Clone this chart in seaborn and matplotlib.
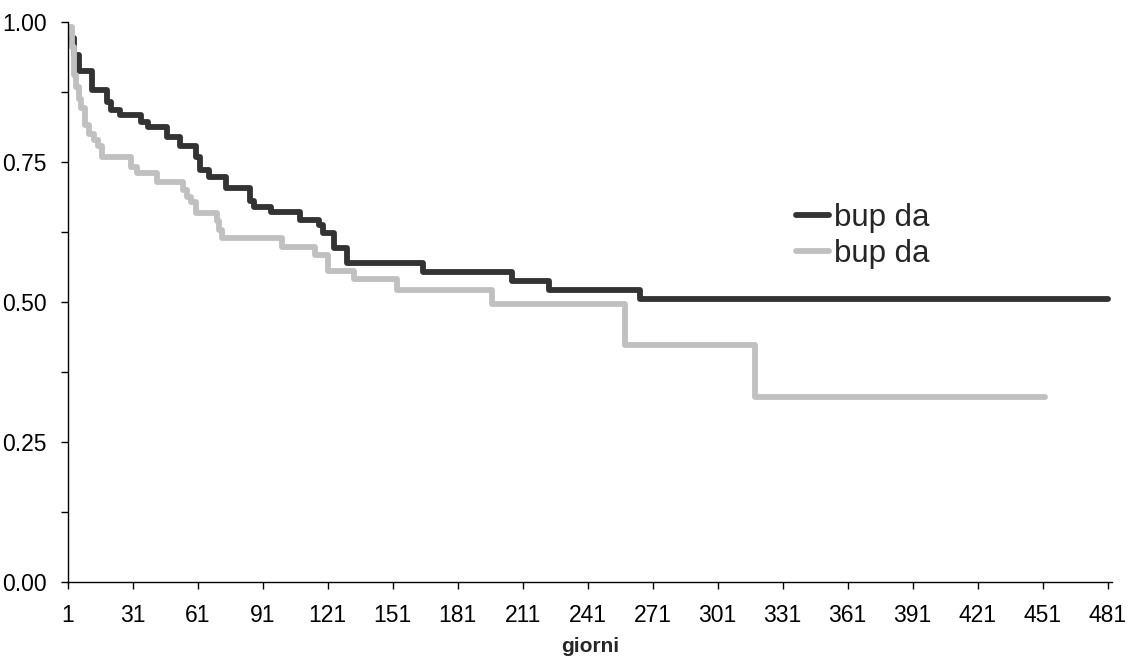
import pandas as pd
import seaborn as sns
import matplotlib.pyplot as plt
from matplotlib.ticker import MultipleLocator, FixedLocator

# curva scura (bup da)
giorni_scuro = [1, 4, 6, 12, 19, 21, 25, 35, 38, 47, 53, 60, 62, 66, 74, 85, 87, 95,
                108, 117, 119, 124, 130, 165, 206, 223, 265, 481]
surv_scuro = [0.972, 0.941, 0.912, 0.879, 0.858, 0.843, 0.834, 0.822, 0.813, 0.795,
              0.778, 0.760, 0.736, 0.724, 0.703, 0.680, 0.670, 0.660, 0.647, 0.638,
              0.623, 0.596, 0.569, 0.553, 0.537, 0.522, 0.505, 0.505]

# curva chiara (bup da)
giorni_chiaro = [2, 3, 4, 5, 6, 7, 9, 11, 13, 15, 17, 30, 33, 42, 54, 56, 58, 60, 70,
                 71, 72, 100, 115, 121, 133, 153, 197, 258, 318, 452]
surv_chiaro = [0.992, 0.955, 0.905, 0.885, 0.862, 0.846, 0.816, 0.800, 0.790, 0.778,
               0.760, 0.742, 0.730, 0.715, 0.700, 0.688, 0.679, 0.659, 0.644, 0.629,
               0.614, 0.599, 0.584, 0.556, 0.541, 0.521, 0.496, 0.423, 0.331, 0.331]

tick_giorni = list(range(1, 482, 30))
etichetta = "bup da"

df_scuro = pd.DataFrame({"giorni": giorni_scuro, "surv": surv_scuro})
df_chiaro = pd.DataFrame({"giorni": giorni_chiaro, "surv": surv_chiaro})

sns.set_style("ticks")
plt.rcParams["font.family"] = ["Liberation Sans", "DejaVu Sans"]

fig = plt.figure(figsize=(11.3, 6.58), dpi=100)
ax = fig.add_axes([0.0599, 0.116, 0.9242, 0.8502])

sns.lineplot(data=df_scuro, x="giorni", y="surv", color="#333333", linewidth=4.2,
             drawstyle="steps-post", estimator=None, label=etichetta, ax=ax)
sns.lineplot(data=df_chiaro, x="giorni", y="surv", color="#c0c0c0", linewidth=4.2,
             drawstyle="steps-post", estimator=None, label=etichetta, ax=ax)

ax.set_xlim(1, 483)
ax.set_ylim(0, 1)
ax.xaxis.set_major_locator(FixedLocator(tick_giorni))
ax.set_xticklabels([str(t) for t in tick_giorni])
ax.yaxis.set_major_locator(MultipleLocator(0.25))
ax.yaxis.set_minor_locator(MultipleLocator(0.125))
ax.set_yticklabels([f"{v:.2f}" for v in ax.get_yticks()])

ax.tick_params(axis="both", which="both", direction="out", length=5, width=1,
               color="black", labelsize=16.5, labelcolor="black")
ax.tick_params(axis="x", pad=11)
ax.tick_params(axis="y", pad=10)

sns.despine(ax=ax)
for s in ["left", "bottom"]:
    ax.spines[s].set_color("black")
    ax.spines[s].set_linewidth(1)

ax.set_xlabel("giorni", fontsize=15, fontweight="bold", labelpad=7)
ax.set_ylabel("")

ax.legend(loc="upper left", bbox_to_anchor=(796 / 1130, 1 - 203 / 658),
          bbox_transform=fig.transFigure, frameon=False, fontsize=22.5,
          handlelength=1.05, handletextpad=0.15, labelspacing=0.2,
          borderpad=0, borderaxespad=0)

fig.savefig("out.png", dpi=100)
